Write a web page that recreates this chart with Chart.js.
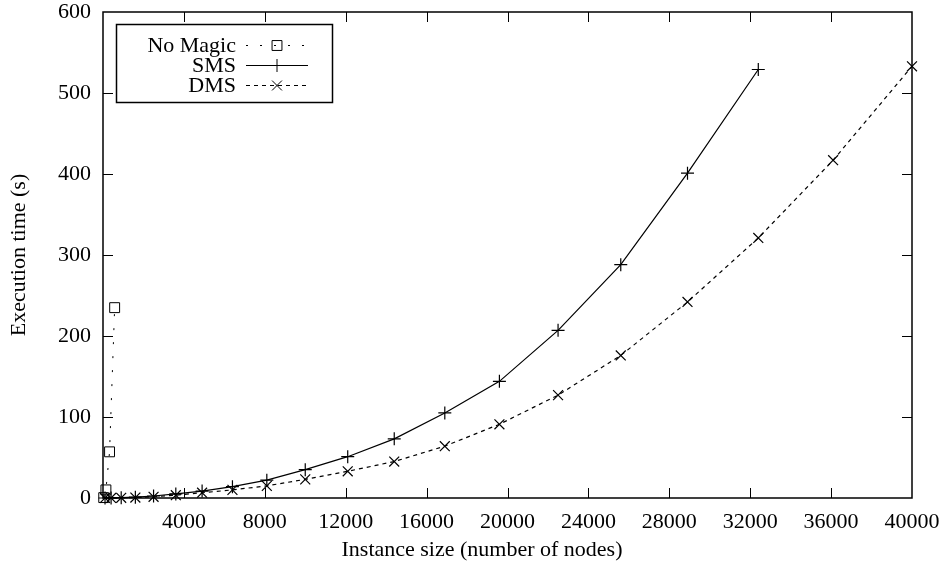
<!DOCTYPE html>
<html>
<head>
<meta charset="utf-8">
<script src="https://cdn.jsdelivr.net/npm/chart.js@4.4.0/dist/chart.umd.min.js"></script>
<style>
  html, body { margin: 0; padding: 0; background: #fff; }
</style>
</head>
<body>
<canvas id="timingChart" width="947" height="570"></canvas>
<script>
// instance sizes (number of nodes) and execution times in seconds
const noMagicSizes = [36, 144, 324, 576];
const noMagicTimes = [0.5, 10, 57, 235];

const smsSizes = [100, 400, 900, 1600, 2500, 3600, 4900, 6400, 8100, 10000, 12100,
  14400, 16900, 19600, 22500, 25600, 28900, 32400];
const smsTimes = [0.01, 0.1, 0.4, 1, 2.5, 5, 8.5, 14, 22, 35, 51, 73, 105, 144, 207,
  288, 401, 529];

const dmsSizes = [100, 400, 900, 1600, 2500, 3600, 4900, 6400, 8100, 10000, 12100,
  14400, 16900, 19600, 22500, 25600, 28900, 32400, 36100, 40000];
const dmsTimes = [0.01, 0.05, 0.2, 0.6, 1.5, 3.5, 6.5, 10, 15, 23, 33, 45, 64, 91, 127,
  176, 242, 321, 417, 533];

const xTicks = [0, 4000, 8000, 12000, 16000, 20000, 24000, 28000, 32000, 36000, 40000];
const yTicks = [0, 100, 200, 300, 400, 500, 600];

const xTitle = "Instance size (number of nodes)";
const yTitle = "Execution time (s)";

const SERIF = "'Liberation Serif', 'DejaVu Serif', serif";
Chart.defaults.font.family = SERIF;
Chart.defaults.font.size = 22;
Chart.defaults.color = "#000";

function toPoints(xs, ys) {
  return xs.map((x, i) => ({ x, y: ys[i] }));
}

// gnuplot style frame: border all round, ticks pointing inwards on every side
const frameTicks = {
  id: "frameTicks",
  beforeDatasetsDraw(chart) {
    const { ctx, chartArea: a, scales } = chart;
    const len = 10;
    ctx.save();
    ctx.strokeStyle = "#000";
    ctx.lineWidth = 1;
    ctx.beginPath();
    xTicks.forEach((v) => {
      const px = Math.round(scales.x.getPixelForValue(v)) + 0.5;
      if (v === xTicks[0] || v === xTicks[xTicks.length - 1]) return;
      ctx.moveTo(px, a.bottom);
      ctx.lineTo(px, a.bottom - len);
      ctx.moveTo(px, a.top);
      ctx.lineTo(px, a.top + len);
    });
    yTicks.forEach((v) => {
      const py = Math.round(scales.y.getPixelForValue(v)) + 0.5;
      if (v === yTicks[0] || v === yTicks[yTicks.length - 1]) return;
      ctx.moveTo(a.left, py);
      ctx.lineTo(a.left + len, py);
      ctx.moveTo(a.right, py);
      ctx.lineTo(a.right - len, py);
    });
    ctx.stroke();
    ctx.lineWidth = 1.5;
    ctx.strokeRect(a.left, a.top, a.right - a.left, a.bottom - a.top);
    ctx.restore();
  },
};

// x caption sits a little left of the plot centre, as gnuplot puts it
const xCaption = {
  id: "xCaption",
  afterDraw(chart) {
    const { ctx } = chart;
    ctx.save();
    ctx.font = "22px " + SERIF;
    ctx.fillStyle = "#000";
    ctx.textAlign = "center";
    ctx.textBaseline = "middle";
    ctx.fillText(xTitle, 482, 550);
    ctx.restore();
  },
};

// key in the top-left corner: label, then line sample with its marker
const keyBox = {
  id: "keyBox",
  afterDraw(chart) {
    const { ctx, chartArea: a } = chart;
    const left = a.left + 13;
    const top = a.top + 12;
    const w = 216;
    const h = 78;
    ctx.save();
    ctx.fillStyle = "#fff";
    ctx.fillRect(left, top, w, h);
    ctx.strokeStyle = "#000";
    ctx.lineWidth = 1.5;
    ctx.strokeRect(left + 0.5, top + 0.5, w, h);

    ctx.font = "22px " + SERIF;
    ctx.textAlign = "right";
    ctx.textBaseline = "middle";
    chart.data.datasets.forEach((ds, i) => {
      const y = top + 21 + i * 20;
      ctx.fillStyle = "#000";
      ctx.fillText(ds.label, left + 120, y + 1);
      ctx.lineWidth = 1;
      ctx.strokeStyle = "#000";
      ctx.setLineDash(ds.borderDash || []);
      ctx.beginPath();
      ctx.moveTo(left + 130, y + 0.5);
      ctx.lineTo(left + 192, y + 0.5);
      ctx.stroke();
      ctx.setLineDash([]);
      ctx.fillStyle = "rgba(0,0,0,0)";
      Chart.helpers.drawPoint(ctx, {
        pointStyle: ds.pointStyle,
        radius: ds.pointRadius,
        borderWidth: 1,
      }, left + 161, y + 0.5);
    });
    ctx.restore();
  },
};

new Chart(document.getElementById("timingChart"), {
  type: "line",
  data: {
    datasets: [
      {
        label: "No Magic",
        data: toPoints(noMagicSizes, noMagicTimes),
        borderColor: "#000",
        backgroundColor: "rgba(0,0,0,0)",
        borderWidth: 1,
        borderDash: [2, 12],
        pointStyle: "rect",
        pointRadius: 7,
        pointBorderWidth: 1,
        pointBorderColor: "#000",
        pointBackgroundColor: "rgba(0,0,0,0)",
        tension: 0,
        clip: false,
      },
      {
        label: "SMS",
        data: toPoints(smsSizes, smsTimes),
        borderColor: "#000",
        backgroundColor: "rgba(0,0,0,0)",
        borderWidth: 1.2,
        pointStyle: "cross",
        pointRadius: 6.5,
        pointBorderWidth: 1.2,
        pointBorderColor: "#000",
        tension: 0,
        clip: false,
      },
      {
        label: "DMS",
        data: toPoints(dmsSizes, dmsTimes),
        borderColor: "#000",
        backgroundColor: "rgba(0,0,0,0)",
        borderWidth: 1.2,
        borderDash: [4, 4],
        pointStyle: "crossRot",
        pointRadius: 7,
        pointBorderWidth: 1.2,
        pointBorderColor: "#000",
        tension: 0,
        clip: false,
      },
    ],
  },
  options: {
    responsive: false,
    animation: false,
    layout: { padding: { top: 12, right: 35, left: 0, bottom: 0 } },
    plugins: {
      legend: { display: false },
      tooltip: { enabled: false },
    },
    scales: {
      x: {
        type: "linear",
        min: 0,
        max: 40000,
        afterBuildTicks(scale) {
          scale.ticks = xTicks.map((value) => ({ value }));
        },
        afterFit(scale) {
          scale.height = 72;
          scale.paddingLeft = 0;
          scale.paddingRight = 0;
        },
        grid: { display: false, drawTicks: false },
        border: { display: false },
        ticks: {
          padding: 11,
          maxRotation: 0,
          autoSkip: false,
          callback: (v) => (v === 0 ? "" : String(v)),
        },
        title: { display: false },
      },
      y: {
        min: 0,
        max: 600,
        afterBuildTicks(scale) {
          scale.ticks = yTicks.map((value) => ({ value }));
        },
        afterFit(scale) {
          scale.width = 103;
          scale.paddingTop = 0;
          scale.paddingBottom = 0;
        },
        grid: { display: false, drawTicks: false },
        border: { display: false },
        ticks: { padding: 12 },
        title: {
          display: true,
          text: yTitle,
          padding: { top: 6, bottom: 4 },
        },
      },
    },
  },
  plugins: [frameTicks, xCaption, keyBox],
});
</script>
</body>
</html>
